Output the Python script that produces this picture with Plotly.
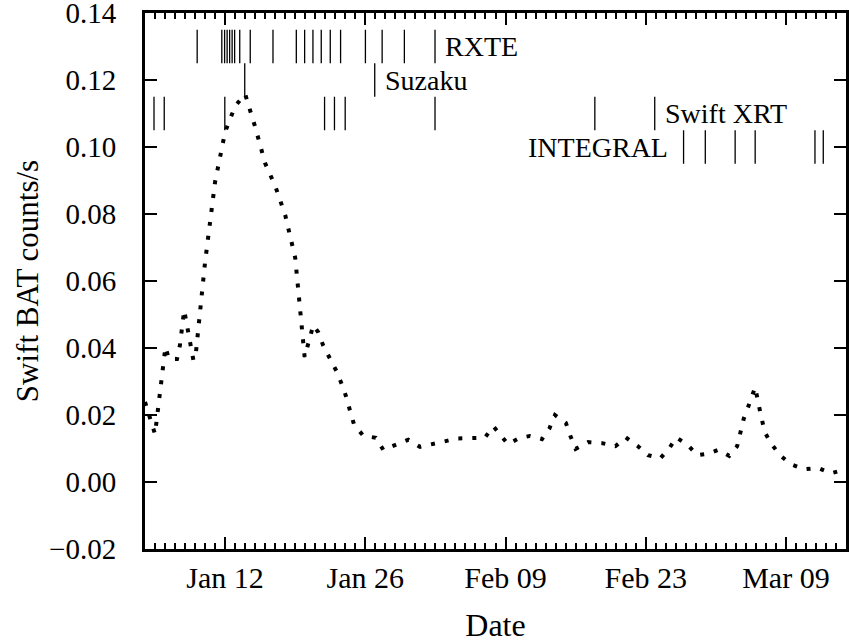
import numpy as np
import pandas as pd
import plotly.graph_objects as go

YEAR_START = pd.Timestamp("2007-01-01")

# Swift BAT light curve (day of year 2007, counts/s)
bat_doy = [4.0, 5.0, 6.04, 6.39, 7.19, 7.49, 7.91, 8.83, 9.03, 10.0, 11.0, 12.0, 13.0,
           14.0, 15.0, 16.0, 17.0, 18.0, 19.0, 19.94, 20.8, 21.30, 21.80, 22.46, 23.12,
           23.65, 24.12, 24.49, 24.89, 25.81, 27.04, 27.80, 29.13, 30.29, 31.46, 32.52,
           33.75, 35.11, 36.54, 37.93, 38.79, 39.46, 40.25, 41.42, 42.42, 43.64, 44.37,
           44.94, 46.03, 46.50, 47.0, 48.25, 49.65, 50.98, 52.01, 53.17, 54.23, 55.46,
           56.36, 57.06, 58.21, 59.15, 60.30, 61.24, 62.34, 63.13, 63.49, 63.79, 64.29,
           64.93, 65.26, 65.58, 65.88, 66.57, 67.45, 68.51, 69.84, 71.20, 72.49, 73.72]
bat_rate = [0.0239, 0.0143, 0.0403, 0.0367, 0.0367, 0.0409, 0.0513, 0.0364, 0.0370,
            0.0657, 0.0896, 0.1045, 0.1122, 0.1158, 0.1060, 0.0951, 0.0884, 0.0797,
            0.0669, 0.0373, 0.0468, 0.0447, 0.0407, 0.0368, 0.0331, 0.0292, 0.0252,
            0.0211, 0.0170, 0.0138, 0.0132, 0.0096, 0.0111, 0.0126, 0.0105, 0.0111,
            0.0120, 0.0130, 0.0132, 0.0132, 0.0166, 0.0140, 0.0113, 0.0132, 0.0137,
            0.0128, 0.0159, 0.0200, 0.0176, 0.0136, 0.0099, 0.0119, 0.0116, 0.0107,
            0.0133, 0.0108, 0.0080, 0.0071, 0.0101, 0.0133, 0.0110, 0.0080, 0.0085,
            0.0096, 0.0078, 0.0107, 0.0148, 0.0189, 0.0229, 0.0283, 0.0233, 0.0191,
            0.0149, 0.0113, 0.0079, 0.0053, 0.0038, 0.0042, 0.0026, 0.0036]

# Observation epochs (day of year 2007)
rxte_doy = [9.21, 11.67, 11.95, 12.20, 12.45, 12.70, 12.95, 13.46, 14.51,
            16.78, 19.11, 19.94, 20.77, 21.60, 22.50, 23.53, 26.01, 27.68, 29.90, 32.96]
suzaku_doy = [13.96, 26.94]
xrt_doy = [4.90, 5.92, 11.97, 21.93, 22.92, 23.99, 32.96, 48.92, 54.90]
integral_doy = [57.78, 59.95, 62.93, 64.93, 70.90, 71.73]

instruments = ["RXTE", "Suzaku", "Swift XRT", "INTEGRAL"]
row_level = [0.130, 0.120, 0.110, 0.100]
ROW_HALF = 0.005

x_range_doy = [4.0, 74.0]
y_range = [-0.02, 0.14]
y_tickvals = [-0.02, 0.00, 0.02, 0.04, 0.06, 0.08, 0.10, 0.12, 0.14]
y_ticktext = ["\u22120.02", "0.00", "0.02", "0.04", "0.06", "0.08", "0.10", "0.12", "0.14"]


def to_date(doy):
    return YEAR_START + pd.to_timedelta(np.asarray(doy, dtype=float) - 1.0, unit="D")


FONT = "Liberation Serif"

fig = go.Figure()
fig.add_trace(go.Scatter(
    x=to_date(bat_doy), y=bat_rate, mode="lines",
    line=dict(color="black", width=4, dash="4px,10px"),
    showlegend=False, hoverinfo="skip"))

obs_lists = [rxte_doy, suzaku_doy, xrt_doy, integral_doy]
for name, lst, lev in zip(instruments, obs_lists, row_level):
    xs, ys = [], []
    for t in to_date(lst):
        xs += [t, t, None]
        ys += [lev - ROW_HALF, lev + ROW_HALF, None]
    fig.add_trace(go.Scatter(x=xs, y=ys, mode="lines",
                             line=dict(color="black", width=1.3),
                             showlegend=False, hoverinfo="skip"))

# labels
label_specs = [
    ("RXTE", rxte_doy[-1], row_level[0], "left", 8),
    ("Suzaku", suzaku_doy[-1], row_level[1], "left", 8),
    ("Swift XRT", xrt_doy[-1], row_level[2], "left", 8),
    ("INTEGRAL", integral_doy[0], row_level[3], "right", -14),
]
for txt, t, lev, anc, shift in label_specs:
    fig.add_annotation(x=to_date([t])[0], y=lev, text=txt, showarrow=False,
                       xanchor=anc, yanchor="middle", xshift=shift,
                       font=dict(family=FONT, size=28, color="black"))

rng = to_date(x_range_doy)
fig.update_xaxes(
    range=[rng[0], rng[1]], type="date", automargin=False,
    tick0="2007-01-12", dtick=14 * 86400000, tickformat="%b %d",
    ticks="inside", ticklen=12, tickwidth=2, tickcolor="black",
    minor=dict(dtick=86400000, ticks="inside", ticklen=6, tickwidth=1.5, tickcolor="black"),
    showline=True, linewidth=3, linecolor="black", mirror="allticks",
    showgrid=False, zeroline=False,
    tickfont=dict(family=FONT, size=30, color="black"),
    title=dict(text="Date", font=dict(family=FONT, size=32, color="black"), standoff=22),
)
fig.update_yaxes(
    range=[y_range[0], y_range[1] + 1e-9], automargin=False,
    tickmode="array", tickvals=y_tickvals, ticktext=y_ticktext,
    ticks="inside", ticklen=12, tickwidth=2, tickcolor="black",
    showline=True, linewidth=3, linecolor="black", mirror="allticks",
    showgrid=False, zeroline=False, ticklabeloverflow="allow",
    tickfont=dict(family=FONT, size=29, color="black"),
    ticklabelstandoff=20,
    title=dict(text="Swift BAT counts/s", font=dict(family=FONT, size=31, color="black"), standoff=2),
)
fig.update_layout(
    width=849, height=643,
    margin=dict(l=145, r=3, t=13, b=94),
    paper_bgcolor="white", plot_bgcolor="white",
)
fig.write_html("out.html",
               config={"displayModeBar": False},
               post_script="document.body.style.margin='0px';document.body.style.overflow='hidden';")
